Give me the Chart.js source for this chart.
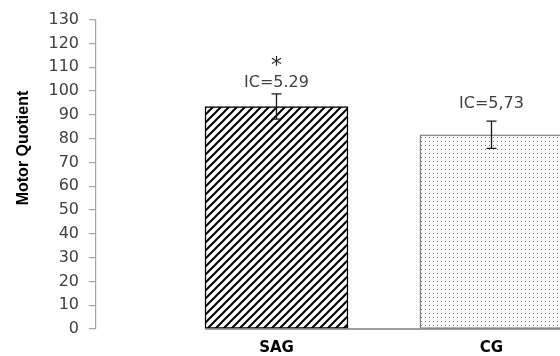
<!DOCTYPE html>
<html>
<head>
<meta charset="utf-8">
<script src="https://cdn.jsdelivr.net/npm/chart.js@4.4.1/dist/chart.umd.min.js"></script>
<style>
  html, body { margin: 0; padding: 0; background: #ffffff; overflow: hidden; }
  #wrap { width: 560px; height: 356px; }
</style>
</head>
<body>
<div id="wrap"><canvas id="c" width="560" height="356"></canvas></div>
<script>
// Groups and their mean motor quotient
const categories = ['SAG', 'CG'];
const meanValues = [93.5, 81.6];
// Confidence interval half-width per group
const ciValues = [5.29, 5.73];
const ciDecimalSep = ['.', ','];
// Significance marker per group
const sigMarks = ['*', ''];
// Y axis ticks
const yTicks = [0, 10, 20, 30, 40, 50, 60, 70, 80, 90, 100, 110, 120, 130];

const yTitle = 'Motor Quotient';

// Fill patterns: diagonal hatch and fine dots
function hatchPattern() {
  const t = document.createElement('canvas');
  t.width = 8; t.height = 8;
  const g = t.getContext('2d');
  g.fillStyle = '#ffffff';
  g.fillRect(0, 0, 8, 8);
  g.strokeStyle = '#000000';
  g.lineWidth = 2.0;
  g.beginPath();
  g.moveTo(-2, 10); g.lineTo(10, -2);
  g.moveTo(-2, 2); g.lineTo(2, -2);
  g.moveTo(6, 10); g.lineTo(10, 6);
  g.stroke();
  return g.createPattern(t, 'repeat');
}
function dotPattern() {
  const t = document.createElement('canvas');
  t.width = 4; t.height = 4;
  const g = t.getContext('2d');
  g.fillStyle = '#ffffff';
  g.fillRect(0, 0, 4, 4);
  g.fillStyle = '#7a7a7a';
  g.fillRect(1, 1, 1, 1);
  return g.createPattern(t, 'repeat');
}

const fills = [hatchPattern(), dotPattern()];
const borders = ['#000000', '#6a6a6a'];
const borderWidths = [1.5, 1.2];

const barData = categories.map((c, i) => ({ x: i + 1, y: meanValues[i] }));

// Baseline under the bars, error bars, IC labels, markers and axis title
const decorPlugin = {
  id: 'decor',
  afterDatasetsDraw(chart, args, opts) {
    const ctx = chart.ctx;
    const ys = chart.scales.y;
    const area = chart.chartArea;
    const meta = chart.getDatasetMeta(0);
    ctx.save();

    // baseline from the first bar to the right edge
    const first = meta.data[0];
    const y0 = ys.getPixelForValue(0);
    ctx.strokeStyle = '#7f7f7f';
    ctx.lineWidth = 1.5;
    ctx.beginPath();
    ctx.moveTo(first.x - first.width / 2, y0);
    ctx.lineTo(area.right, y0);
    ctx.stroke();

    meta.data.forEach((bar, i) => {
      const x = bar.x;
      const yTop = ys.getPixelForValue(meanValues[i] + ciValues[i]);
      const yBot = ys.getPixelForValue(meanValues[i] - ciValues[i]);
      ctx.strokeStyle = '#1a1a1a';
      ctx.lineWidth = 1.3;
      ctx.beginPath();
      ctx.moveTo(x, yTop); ctx.lineTo(x, yBot);
      ctx.moveTo(x - 5, yTop); ctx.lineTo(x + 5, yTop);
      ctx.moveTo(x - 5, yBot); ctx.lineTo(x + 5, yBot);
      ctx.stroke();

      const labelY = yTop - opts.labelGap[i];
      ctx.fillStyle = '#404040';
      ctx.font = '16px "DejaVu Sans"';
      ctx.textAlign = 'center';
      ctx.textBaseline = 'middle';
      const txt = 'IC=' + ciValues[i].toFixed(2).replace('.', ciDecimalSep[i]);
      ctx.fillText(txt, x, labelY);

      if (sigMarks[i]) {
        ctx.fillStyle = '#262626';
        ctx.font = '22px "DejaVu Sans"';
        ctx.textBaseline = 'alphabetic';
        ctx.fillText(sigMarks[i], x, labelY - 11);
      }
    });

    // y axis title
    ctx.fillStyle = '#000000';
    ctx.font = 'bold 16px "Liberation Sans"';
    ctx.textAlign = 'center';
    ctx.textBaseline = 'middle';
    ctx.translate(24, 148);
    ctx.rotate(-Math.PI / 2);
    ctx.fillText(yTitle, 0, 0);
    ctx.restore();
  }
};

new Chart(document.getElementById('c'), {
  type: 'bar',
  data: {
    datasets: [{
      data: barData,
      backgroundColor: fills,
      borderColor: borders,
      borderWidth: borderWidths,
      borderSkipped: false,
      barThickness: 143
    }]
  },
  options: {
    responsive: false,
    animation: false,
    devicePixelRatio: 1,
    layout: { padding: { top: 19, right: 0, bottom: 0, left: 0 } },
    plugins: {
      legend: { display: false },
      tooltip: { enabled: false },
      decor: { labelGap: [11, 17] }
    },
    scales: {
      x: {
        type: 'linear',
        min: 0.1605,
        max: 2.3186,
        offset: false,
        bounds: 'data',
        border: { display: false },
        grid: { display: false, drawTicks: false, offset: false },
        afterBuildTicks(scale) {
          scale.ticks = categories.map((c, i) => ({ value: i + 1 }));
        },
        afterFit(scale) { scale.height = 27; },
        ticks: {
          padding: 10,
          color: '#000000',
          font: { family: 'DejaVu Sans', size: 15, weight: 'bold' },
          callback: (v) => categories[Math.round(v) - 1] || ''
        }
      },
      y: {
        min: 0,
        max: 130,
        afterBuildTicks(scale) {
          scale.ticks = yTicks.map(v => ({ value: v }));
        },
        afterFit(scale) { scale.width = 96; },
        border: { display: true, color: '#a6a6a6', width: 1.2 },
        grid: {
          display: true,
          drawOnChartArea: false,
          drawTicks: true,
          tickLength: 7,
          color: '#a6a6a6',
          lineWidth: 1.2
        },
        ticks: {
          padding: 10,
          color: '#404040',
          font: { family: 'DejaVu Sans', size: 16 }
        }
      }
    }
  },
  plugins: [decorPlugin]
});
</script>
</body>
</html>
